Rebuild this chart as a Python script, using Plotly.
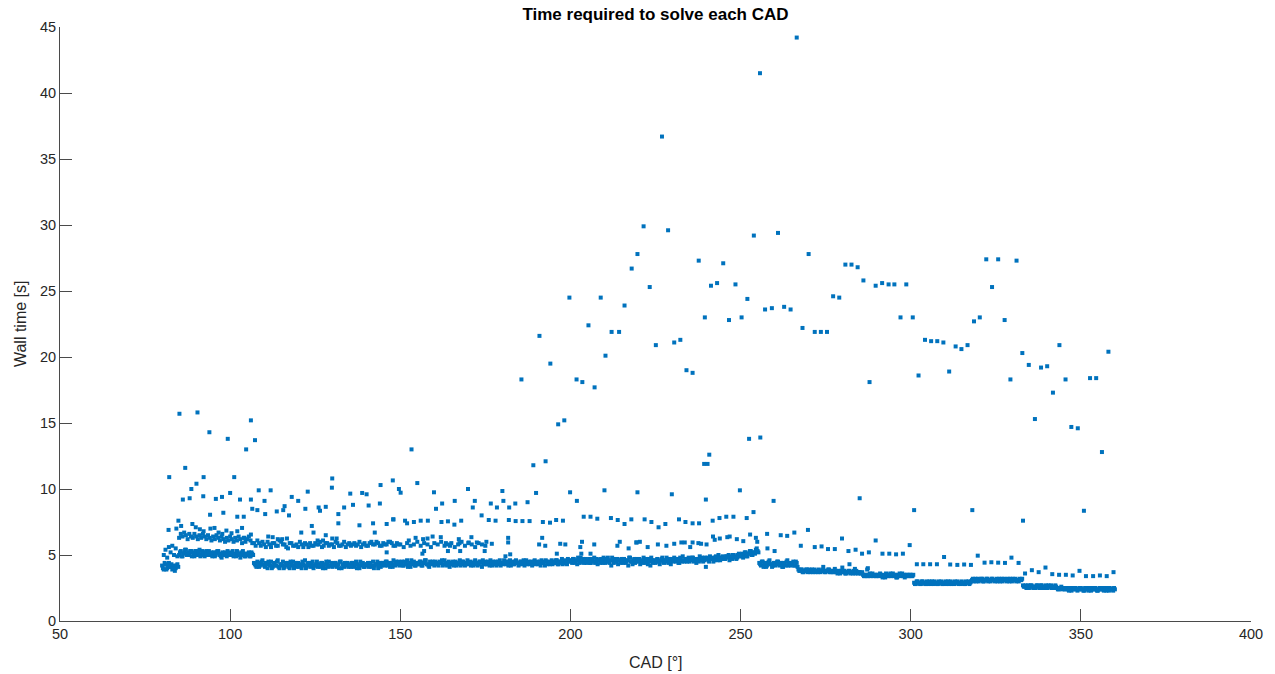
import numpy as np
import plotly.graph_objects as go

# ---- crank-angle grid of the dense solver band (deg) ----
band_start, band_step = 80.0, 0.5

# main band, samples on whole/half degrees: 80.0 ... 360.0
band_a = [
    4.2, 3.9, 4.3, 4.0, 4.4, 4.1, 3.9, 4.2, 4.0, 4.3,
    5.0, 5.3, 4.9, 5.2, 5.4, 5.1, 5.0, 5.3, 5.2, 4.9,
    5.3, 5.1, 5.4, 5.0, 5.2, 4.9, 5.3, 5.1, 5.0, 5.2,
    5.1, 4.9, 5.2, 5.3, 5.0, 4.8, 5.1, 5.2, 4.9, 5.0,
    5.2, 5.0, 4.9, 5.1, 5.3, 5.0, 4.8, 5.2, 5.1, 4.9,
    5.0, 5.2, 4.9, 5.1, 4.4, 4.2, 4.5, 4.1, 4.3, 4.6,
    4.2, 4.4, 4.0, 4.3, 4.5, 4.1, 4.3, 4.2, 4.6, 4.0,
    4.3, 4.5, 4.1, 4.2, 4.4, 4.0, 4.3, 4.5, 4.2, 4.1,
    4.4, 4.2, 4.0, 4.3, 4.6, 4.1, 4.2, 4.4, 4.3, 4.0,
    4.2, 4.5, 4.3, 4.1, 4.4, 4.2, 4.0, 4.3, 4.5, 4.2,
    4.1, 4.3, 4.4, 4.2, 4.0, 4.5, 4.3, 4.1, 4.2, 4.4,
    4.3, 4.1, 4.4, 4.2, 4.5, 4.3, 4.0, 4.2, 4.4, 4.1,
    4.2, 4.4, 4.3, 4.1, 4.5, 4.2, 4.3, 4.0, 4.4, 4.2,
    4.4, 4.2, 4.5, 4.3, 4.1, 4.4, 4.6, 4.2, 4.3, 4.5,
    4.3, 4.5, 4.2, 4.4, 4.6, 4.3, 4.1, 4.4, 4.5, 4.2,
    4.4, 4.3, 4.5, 4.2, 4.4, 4.6, 4.3, 4.1, 4.4, 4.5,
    4.2, 4.4, 4.3, 4.5, 4.4, 4.2, 4.6, 4.3, 4.4, 4.1,
    4.4, 4.5, 4.3, 4.2, 4.4, 4.6, 4.3, 4.5, 4.2, 4.4,
    4.3, 4.5, 4.4, 4.2, 4.6, 4.4, 4.3, 4.5, 4.1, 4.4,
    4.5, 4.3, 4.4, 4.6, 4.2, 4.4, 4.5, 4.3, 4.4, 4.2,
    4.4, 4.6, 4.3, 4.5, 4.4, 4.2, 4.5, 4.3, 4.6, 4.4,
    4.3, 4.5, 4.4, 4.2, 4.6, 4.4, 4.3, 4.5, 4.4, 4.6,
    4.4, 4.3, 4.5, 4.6, 4.4, 4.2, 4.5, 4.4, 4.3, 4.6,
    4.5, 4.4, 4.6, 4.3, 4.5, 4.7, 4.4, 4.5, 4.3, 4.6,
    4.6, 4.4, 4.7, 4.5, 4.3, 4.6, 4.8, 4.5, 4.4, 4.7,
    4.5, 4.7, 4.4, 4.6, 4.8, 4.5, 4.3, 4.6, 4.7, 4.4,
    4.6, 4.5, 4.8, 4.4, 4.2, 4.6, 4.7, 4.5, 4.3, 4.6,
    4.7, 4.4, 4.6, 4.5, 4.2, 4.8, 4.5, 4.6, 4.4, 4.7,
    4.5, 4.3, 4.6, 4.8, 4.4, 4.5, 4.7, 4.2, 4.6, 4.5,
    4.4, 4.7, 4.5, 4.6, 4.8, 4.4, 4.6, 4.5, 4.7, 4.3,
    4.6, 4.8, 4.5, 4.7, 4.4, 4.6, 4.9, 4.5, 4.7, 4.6,
    4.5, 4.7, 4.8, 4.6, 4.4, 4.7, 4.9, 4.6, 4.5, 4.8,
    4.7, 4.6, 4.9, 4.7, 4.5, 4.8, 4.7, 5.0, 4.6, 4.8,
    4.8, 4.7, 4.9, 5.0, 4.8, 4.7, 5.0, 4.9, 4.8, 5.1,
    4.9, 5.1, 5.0, 5.2, 4.9, 5.1, 5.3, 5.0, 5.2, 5.4,
    5.3, 4.4, 4.2, 4.5, 4.3, 4.1, 4.4, 4.6, 4.3, 4.2,
    4.4, 4.3, 4.5, 4.2, 4.4, 4.1, 4.3, 4.5, 4.2, 4.4,
    4.3, 4.5, 4.2, 4.4, 3.9, 3.8, 3.9, 3.7, 3.8, 3.9,
    3.8, 3.7, 3.9, 3.8, 3.7, 3.8, 3.9, 3.7, 3.8, 3.8,
    3.7, 3.8, 3.9, 3.7, 3.8, 3.7, 3.8, 3.6, 3.7, 3.8,
    3.7, 3.8, 3.6, 3.7, 3.8, 3.7, 3.6, 3.7, 3.8, 3.6,
    3.7, 3.6, 3.5, 3.4, 3.5, 3.4, 3.6, 3.5, 3.4, 3.5,
    3.4, 3.5, 3.6, 3.4, 3.5, 3.3, 3.5, 3.4, 3.6, 3.5,
    3.4, 3.5, 3.3, 3.5, 3.4, 3.6, 3.5, 3.4, 3.5, 3.4,
    3.5, 3.4, 2.9, 2.8, 3.0, 2.9, 2.8, 3.0, 2.9, 2.8,
    2.9, 3.0, 2.8, 2.9, 3.0, 2.9, 2.8, 2.9, 3.0, 2.8,
    2.9, 2.8, 3.0, 2.9, 2.8, 2.9, 3.0, 2.9, 2.8, 2.9,
    3.0, 2.9, 2.8, 2.9, 3.0, 2.9, 3.1, 3.0, 3.2, 3.1,
    3.0, 3.1, 3.2, 3.0, 3.1, 3.2, 3.1, 3.0, 3.2, 3.1,
    3.1, 3.0, 3.2, 3.1, 3.0, 3.2, 3.1, 3.2, 3.0, 3.1,
    3.2, 3.1, 3.0, 3.1, 3.2, 3.1, 2.7, 2.6, 2.5, 2.7,
    2.6, 2.7, 2.5, 2.6, 2.7, 2.6, 2.5, 2.7, 2.6, 2.5,
    2.6, 2.7, 2.6, 2.5, 2.6, 2.7, 2.5, 2.4, 2.5, 2.4,
    2.5, 2.4, 2.5, 2.3, 2.4, 2.5, 2.4, 2.5, 2.3, 2.4,
    2.5, 2.4, 2.3, 2.4, 2.5, 2.4, 2.3, 2.5, 2.4, 2.4,
    2.3, 2.5, 2.4, 2.4, 2.5, 2.3, 2.4, 2.5, 2.4, 2.3,
    2.4,
]

# main band, samples on quarter degrees: 80.25 ... 359.75
band_b = [
    4.0, 4.4, 3.9, 4.2, 4.1, 4.3, 4.0, 3.8, 4.2, 4.1,
    5.2, 4.9, 5.1, 5.4, 5.0, 5.2, 5.3, 4.9, 5.1, 5.3,
    5.0, 5.2, 4.9, 5.3, 5.1, 5.2, 5.0, 5.3, 5.1, 4.9,
    5.2, 5.0, 5.3, 5.1, 4.9, 5.2, 5.0, 5.1, 5.3, 5.0,
    5.1, 5.3, 5.0, 4.9, 5.2, 5.1, 5.0, 5.3, 4.9, 5.1,
    5.1, 4.9, 5.2, 5.0, 4.3, 4.1, 4.4, 4.2, 4.5, 4.3,
    4.1, 4.3, 4.5, 4.2, 4.0, 4.4, 4.2, 4.5, 4.1, 4.3,
    4.2, 4.0, 4.4, 4.3, 4.1, 4.5, 4.2, 4.0, 4.4, 4.3,
    4.1, 4.3, 4.5, 4.2, 4.0, 4.4, 4.3, 4.1, 4.5, 4.2,
    4.3, 4.1, 4.2, 4.4, 4.0, 4.3, 4.5, 4.1, 4.2, 4.4,
    4.2, 4.4, 4.1, 4.3, 4.5, 4.0, 4.2, 4.4, 4.3, 4.1,
    4.2, 4.4, 4.1, 4.3, 4.0, 4.2, 4.5, 4.3, 4.1, 4.3,
    4.3, 4.1, 4.4, 4.2, 4.0, 4.3, 4.5, 4.2, 4.1, 4.4,
    4.3, 4.5, 4.2, 4.4, 4.3, 4.1, 4.3, 4.5, 4.4, 4.2,
    4.4, 4.2, 4.5, 4.3, 4.1, 4.4, 4.6, 4.3, 4.2, 4.4,
    4.3, 4.5, 4.2, 4.4, 4.6, 4.3, 4.2, 4.5, 4.3, 4.4,
    4.5, 4.3, 4.2, 4.4, 4.6, 4.3, 4.4, 4.2, 4.5, 4.3,
    4.3, 4.2, 4.5, 4.4, 4.3, 4.2, 4.5, 4.4, 4.3, 4.6,
    4.4, 4.2, 4.3, 4.5, 4.3, 4.2, 4.5, 4.4, 4.6, 4.3,
    4.3, 4.5, 4.2, 4.4, 4.5, 4.3, 4.2, 4.5, 4.6, 4.4,
    4.3, 4.4, 4.5, 4.2, 4.6, 4.4, 4.3, 4.5, 4.4, 4.2,
    4.5, 4.3, 4.6, 4.4, 4.3, 4.5, 4.4, 4.2, 4.5, 4.3,
    4.5, 4.4, 4.2, 4.4, 4.5, 4.6, 4.3, 4.5, 4.4, 4.3,
    4.4, 4.6, 4.3, 4.5, 4.4, 4.3, 4.6, 4.4, 4.7, 4.5,
    4.5, 4.7, 4.4, 4.6, 4.8, 4.4, 4.5, 4.7, 4.6, 4.4,
    4.6, 4.4, 4.7, 4.5, 4.4, 4.7, 4.6, 4.4, 4.5, 4.8,
    4.4, 4.7, 4.5, 4.6, 4.8, 4.4, 4.5, 4.7, 4.6, 4.4,
    4.5, 4.7, 4.4, 4.6, 4.8, 4.5, 4.3, 4.7, 4.5, 4.6,
    4.7, 4.5, 4.4, 4.6, 4.7, 4.3, 4.5, 4.8, 4.4, 4.6,
    4.6, 4.5, 4.3, 4.7, 4.5, 4.6, 4.8, 4.4, 4.5, 4.7,
    4.5, 4.6, 4.7, 4.4, 4.8, 4.5, 4.6, 4.7, 4.5, 4.8,
    4.6, 4.8, 4.5, 4.7, 4.6, 4.5, 4.7, 4.8, 4.6, 4.7,
    4.8, 4.5, 4.7, 4.8, 4.6, 4.9, 4.6, 4.8, 4.7, 4.9,
    4.7, 4.9, 4.8, 4.6, 4.9, 5.0, 4.8, 4.7, 5.0, 4.9,
    5.0, 4.8, 5.2, 4.9, 5.1, 5.3, 5.0, 5.2, 5.1, 5.5,
    5.2, 4.3, 4.5, 4.1, 4.4, 4.2, 4.5, 4.3, 4.1, 4.4,
    4.2, 4.5, 4.3, 4.4, 4.1, 4.4, 4.2, 4.6, 4.3, 4.2,
    4.4, 4.2, 4.5, 4.1, 3.8, 3.9, 3.7, 3.8, 3.9, 3.7,
    3.9, 3.8, 3.7, 3.9, 3.8, 3.7, 3.8, 3.8, 3.9, 3.7,
    3.8, 3.9, 3.7, 3.8, 3.7, 3.8, 3.7, 3.8, 3.6, 3.7,
    3.8, 3.6, 3.7, 3.8, 3.6, 3.7, 3.8, 3.6, 3.7, 3.7,
    3.6, 3.7, 3.4, 3.5, 3.4, 3.5, 3.4, 3.6, 3.5, 3.4,
    3.5, 3.4, 3.5, 3.3, 3.4, 3.6, 3.4, 3.5, 3.4, 3.6,
    3.5, 3.3, 3.4, 3.6, 3.5, 3.4, 3.3, 3.5, 3.4, 3.5,
    3.4, 3.5, 2.8, 3.0, 2.9, 2.8, 3.0, 2.9, 2.8, 3.0,
    2.8, 2.9, 3.0, 2.8, 2.9, 2.8, 3.0, 2.9, 2.8, 2.9,
    3.0, 2.9, 2.8, 3.0, 2.9, 2.8, 2.9, 3.0, 2.9, 2.8,
    2.9, 2.8, 3.0, 2.9, 2.8, 3.0, 3.2, 3.1, 3.0, 3.2,
    3.1, 3.2, 3.0, 3.1, 3.2, 3.0, 3.1, 3.2, 3.1, 3.0,
    3.2, 3.1, 3.0, 3.2, 3.1, 3.1, 3.0, 3.1, 3.2, 3.0,
    3.1, 3.2, 3.1, 3.0, 3.1, 3.2, 2.6, 2.7, 2.6, 2.5,
    2.7, 2.6, 2.6, 2.5, 2.7, 2.6, 2.7, 2.5, 2.6, 2.7,
    2.5, 2.6, 2.7, 2.6, 2.5, 2.6, 2.4, 2.5, 2.6, 2.5,
    2.4, 2.5, 2.4, 2.5, 2.3, 2.4, 2.5, 2.4, 2.4, 2.5,
    2.4, 2.3, 2.5, 2.4, 2.3, 2.5, 2.4, 2.4, 2.5, 2.3,
    2.4, 2.4, 2.5, 2.3, 2.4, 2.5, 2.3, 2.4, 2.4, 2.5,
]

# secondary band, 85.0 ... 106.5 every 0.5 deg
upper_early_start = 85.0
upper_early = [
    6.3, 6.6, 6.4, 6.7, 6.5, 6.2, 6.6, 6.4, 6.3, 6.6,
    6.4, 6.2, 6.5, 6.3, 6.6, 6.4, 6.2, 6.5, 6.3, 6.1,
    6.4, 6.2, 6.5, 6.3, 6.1, 6.4, 6.2, 6.0, 6.3, 6.1,
    6.4, 6.2, 6.0, 6.3, 6.1, 6.4, 6.2, 5.9, 6.3, 6.0,
    6.2, 6.4, 6.1, 5.9,
]

# secondary band, 107 ... 175 every 1 deg
upper_mid_start = 107.0
upper_mid = [
    5.9, 6.1, 5.7, 5.8, 6.0, 5.6, 5.9, 5.7, 6.0, 5.8,
    5.5, 5.9, 5.7, 5.6, 5.8, 5.9, 5.6, 5.7, 5.9, 5.8,
    5.6, 5.9, 5.7, 5.8, 6.0, 5.7, 5.8, 5.6, 5.9, 5.8,
    5.7, 6.0, 5.8, 5.7, 5.9, 5.8, 6.0, 5.7, 5.9, 5.8,
    6.0, 5.7, 5.9, 5.8, 5.6, 5.9, 5.7, 5.8, 6.0, 5.7,
    5.9, 5.8, 5.6, 5.9, 5.8, 6.0, 5.7, 5.8, 5.9, 5.6,
    5.8, 6.0, 5.7, 5.9, 5.8, 5.6, 5.9, 5.8, 5.7,
]

# secondary band, 107.5 ... 149.5 every 1 deg
upper_mid_b_start = 107.5
upper_mid_b = [
    5.7, 5.9, 6.0, 5.6, 5.8, 5.9, 5.7, 6.1, 5.8, 5.6,
    5.9, 5.7, 5.8, 6.0, 5.6, 5.8, 5.9, 5.7, 5.8, 6.0,
    5.7, 5.9, 5.8, 5.6, 5.9, 5.7, 6.0, 5.8, 5.7, 5.9,
    5.8, 5.6, 5.9, 5.7, 6.0, 5.8, 5.9, 5.7, 5.8, 6.0,
    5.9, 5.7, 5.8,
]

# isolated solves (CAD, wall time)
scattered = [
    # early cycle, 80-85 deg
    (80.5, 5.0), (81.0, 5.4), (81.5, 4.8), (82.0, 5.6), (82.5, 5.2),
    (83.0, 5.7), (83.5, 5.0), (84.0, 5.5), (84.5, 4.9),
    (81.9, 6.9), (84.2, 7.0), (84.8, 7.6), (85.6, 7.2), (88.9, 7.35),
    (89.9, 7.1), (91.1, 6.95), (92.2, 6.8), (94.2, 7.0), (95.4, 7.05),
    (96.6, 6.7), (97.7, 6.6), (98.9, 6.85), (100.4, 6.65), (102.1, 6.8),
    (103.5, 7.05), (104.2, 6.3), (106.1, 6.55),
    (111.2, 6.4), (112.5, 6.35), (114.0, 6.2), (115.3, 6.2), (116.7, 6.25),
    (120.9, 6.7), (124.0, 7.2), (124.5, 6.7), (125.7, 6.1), (127.3, 6.1),
    (128.1, 6.5), (130.0, 6.25), (131.3, 6.25), (131.8, 7.4), (138.0, 7.25),
    (142.0, 7.4), (142.5, 6.7), (146.0, 7.35), (148.0, 7.7), (146.0, 5.2),
    # upper cloud 80-150 deg
    (85.1, 15.7), (90.4, 15.8), (93.9, 14.3), (99.3, 13.8), (106.1, 15.2),
    (104.7, 13.0), (107.3, 13.7), (82.1, 10.9), (86.8, 11.6), (101.2, 10.9),
    (88.6, 10.0), (90.1, 10.4), (92.2, 10.9), (86.1, 9.2), (88.1, 9.3),
    (92.1, 9.45), (95.8, 9.25), (97.6, 9.4), (100.0, 9.7), (94.1, 8.05),
    (98.0, 8.2), (102.1, 7.9), (104.0, 7.9), (102.9, 9.2), (106.1, 9.2),
    (106.5, 8.5), (108.4, 9.9), (108.0, 8.4), (110.1, 9.1), (110.3, 8.1),
    (111.9, 9.9), (113.7, 8.3), (115.6, 8.4), (116.0, 8.7), (117.3, 8.0),
    (118.1, 9.4), (120.0, 9.1), (122.1, 8.5), (122.8, 9.8), (126.0, 8.6),
    (126.4, 8.35), (128.1, 8.65), (130.0, 10.8), (129.9, 10.1), (131.8, 8.1),
    (133.5, 8.6), (135.3, 9.65), (136.1, 8.8), (138.8, 9.7), (140.1, 9.6),
    (140.7, 8.75), (144.2, 10.3), (144.0, 8.9), (147.8, 10.65), (149.6, 10.0),
    (150.1, 9.72), (153.3, 13.0), (155.0, 10.45),
    # 150-220 deg
    (159.9, 9.75), (160.5, 8.5), (162.3, 8.9), (166.0, 9.1), (169.9, 10.0),
    (171.3, 8.6), (171.9, 9.1), (173.9, 8.0), (176.6, 8.9), (178.4, 8.6),
    (180.0, 9.85), (180.3, 9.1), (182.0, 8.6), (183.8, 8.9), (187.4, 9.0),
    (189.9, 9.7), (199.9, 9.75), (201.9, 9.1), (210.0, 9.9), (219.7, 9.75),
    (147.9, 7.7), (151.4, 7.6), (152.0, 7.4), (154.0, 7.5), (156.0, 7.6),
    (158.1, 7.6), (162.1, 7.5), (164.0, 7.55), (165.9, 7.3), (167.9, 7.6),
    (176.0, 7.65), (178.0, 7.6), (181.9, 7.65), (183.9, 7.57), (185.9, 7.57),
    (188.0, 7.57), (191.9, 7.5), (194.0, 7.45), (195.8, 7.65), (197.8, 7.6),
    (203.9, 7.9), (205.9, 7.9), (207.9, 7.75), (211.9, 7.8), (213.9, 7.65),
    (215.9, 7.35), (217.9, 7.7),
    (152.5, 6.1), (154.5, 6.3), (156.7, 6.2), (158.0, 6.25), (159.5, 6.4),
    (161.9, 6.35), (163.4, 5.9), (164.6, 5.7), (167.2, 6.2), (167.4, 5.9),
    (170.1, 5.95), (170.9, 6.35), (172.5, 5.95), (175.3, 6.0), (176.9, 5.85),
    (181.7, 6.3), (181.7, 5.95), (190.8, 5.8), (191.7, 6.3), (192.6, 5.7),
    (197.0, 5.85), (198.5, 5.8), (202.9, 5.6), (203.4, 6.0), (207.0, 5.8),
    (213.8, 5.7), (214.5, 6.0), (217.1, 5.5), (219.4, 5.95),
    (156.5, 5.1), (157.0, 5.3), (164.0, 5.3), (167.6, 5.3), (174.8, 5.3),
    (180.9, 4.9), (182.3, 5.05), (196.0, 5.1), (203.2, 5.1), (205.9, 5.1),
    # peak region 185-270 deg
    (185.6, 18.3), (190.9, 21.6), (194.1, 19.5), (196.4, 14.9), (198.2, 15.2),
    (199.7, 24.5), (201.8, 18.3), (203.5, 18.1), (205.3, 22.4), (207.1, 17.7),
    (208.9, 24.5), (210.3, 20.1), (212.1, 21.9), (214.3, 21.9), (215.9, 23.9),
    (189.1, 11.8), (192.7, 12.1),
    (266.5, 44.2), (255.7, 41.5), (226.9, 36.7), (221.5, 29.9), (228.7, 29.6),
    (253.9, 29.2), (261.0, 29.4), (219.7, 27.8), (218.0, 26.7), (223.3, 25.3),
    (237.7, 27.3), (244.9, 27.1), (241.3, 25.4), (243.1, 25.6), (248.5, 25.5),
    (252.0, 24.4), (239.5, 23.0), (246.6, 22.8), (250.3, 23.0), (225.1, 20.9),
    (230.5, 21.1), (232.3, 21.3), (234.1, 19.0), (235.9, 18.8), (257.2, 23.6),
    (259.2, 23.7), (262.8, 23.8), (264.7, 23.6), (270.0, 27.8), (268.2, 22.2),
    (252.5, 13.8), (255.8, 13.9), (240.8, 12.6), (239.3, 11.9), (240.3, 11.9),
    (229.8, 9.6), (239.8, 9.2), (249.8, 9.9), (259.7, 9.1), (285.0, 9.3),
    (221.8, 7.7), (223.8, 7.5), (225.9, 7.1), (227.9, 7.35), (231.9, 7.7),
    (233.8, 7.5), (235.9, 7.4), (237.8, 7.4), (241.8, 7.6), (243.8, 7.8),
    (245.8, 7.9), (247.9, 7.9), (251.8, 7.8), (253.8, 8.25),
    (219.4, 5.95), (220.4, 6.0), (222.7, 5.6), (225.7, 5.8), (228.2, 5.7),
    (230.5, 5.85), (232.6, 5.95), (233.6, 5.95), (235.2, 5.6), (235.9, 5.95),
    (237.6, 5.9), (238.4, 5.85), (240.0, 5.8), (241.9, 6.4), (242.4, 6.15),
    (243.9, 6.25), (246.1, 6.35), (246.8, 6.4), (248.9, 6.2), (250.8, 6.05),
    (252.8, 6.55), (254.5, 6.3), (254.9, 6.0), (260.0, 5.3), (257.9, 5.5),
    (239.8, 4.1),
    # 255-300 deg
    (257.8, 6.6), (261.8, 6.5), (263.7, 6.45), (265.8, 6.7), (269.8, 6.9),
    (267.7, 5.7), (271.8, 5.6), (273.8, 5.65), (275.7, 5.45), (277.7, 5.45),
    (279.8, 6.25), (281.7, 5.3), (283.8, 5.4), (285.7, 5.1), (287.7, 5.2),
    (282.0, 4.3), (287.4, 4.0), (289.7, 6.1), (291.7, 5.1), (293.7, 5.1),
    (295.7, 5.05), (297.7, 5.1), (299.7, 5.75),
    (274.3, 4.1), (277.7, 3.95), (279.9, 4.05), (283.6, 3.95), (287.2, 3.9),
    (271.8, 21.9), (273.6, 21.9), (275.4, 21.9), (277.2, 24.6), (279.0, 24.5),
    (280.8, 27.0), (282.6, 27.0), (284.4, 26.8), (286.1, 25.8), (289.7, 25.4),
    (291.6, 25.6), (293.5, 25.5), (295.2, 25.5), (298.7, 25.5), (297.0, 23.0),
    (300.6, 23.0), (287.9, 18.1),
    # 300-360 deg
    (304.2, 21.3), (302.3, 18.6), (322.2, 27.4), (325.7, 27.4), (331.1, 27.3),
    (323.9, 25.3), (318.6, 22.7), (320.3, 23.0), (327.6, 22.8), (306.0, 21.2),
    (307.8, 21.2), (309.6, 21.1), (313.2, 20.8), (314.9, 20.6), (316.7, 20.9),
    (311.3, 18.9), (329.3, 18.3), (332.8, 20.3), (334.7, 19.4), (338.3, 19.2),
    (340.1, 19.3), (343.7, 20.9), (345.5, 18.3), (341.8, 17.3), (352.7, 18.4),
    (354.5, 18.4), (358.1, 20.4), (336.5, 15.3), (347.2, 14.7), (349.1, 14.6),
    (356.2, 12.8),
    (301.0, 8.4), (318.1, 8.4), (350.9, 8.35), (333.0, 7.6),
    (301.8, 4.3), (303.7, 4.3), (305.7, 4.3), (307.7, 4.3), (309.8, 4.85),
    (311.6, 4.28), (313.7, 4.25), (315.7, 4.28), (317.7, 4.25), (319.7, 4.95),
    (321.7, 4.42), (323.7, 4.45), (325.7, 4.42), (327.7, 4.4), (329.6, 4.8),
    (331.7, 4.4), (333.6, 3.6), (335.6, 3.85), (337.6, 3.7), (339.6, 4.05),
    (341.6, 3.55), (343.6, 3.5), (345.6, 3.5), (347.6, 3.45), (349.6, 3.8),
    (351.5, 3.4), (353.6, 3.4), (355.6, 3.45), (357.6, 3.4), (359.6, 3.7),
]

x_ticks = [50, 100, 150, 200, 250, 300, 350, 400]
y_ticks = [0, 5, 10, 15, 20, 25, 30, 35, 40, 45]

# ---- assemble the samples ----
cad = []
wall = []

def add_grid(start, step, values):
    for i, v in enumerate(values):
        cad.append(start + i * step)
        wall.append(v)

add_grid(band_start, band_step, band_a)
add_grid(band_start + band_step / 2, band_step, band_b)
add_grid(upper_early_start, 0.5, upper_early)
add_grid(upper_mid_start, 1.0, upper_mid)
add_grid(upper_mid_b_start, 1.0, upper_mid_b)
for c, w in scattered:
    cad.append(c)
    wall.append(w)

ink = "#262626"
font = "Liberation Sans, Arial, Helvetica, sans-serif"

fig = go.Figure(
    go.Scatter(
        x=cad, y=wall, mode="markers",
        marker=dict(symbol="square", size=4, color="#0072BD", line=dict(width=0)),
        hoverinfo="x+y",
    )
)

axis_common = dict(
    showgrid=False, zeroline=False, showline=True, linecolor="#4a4a4a", linewidth=1,
    ticks="inside", ticklen=12, tickwidth=1, tickcolor="#4a4a4a",
    tickfont=dict(family=font, size=14.5, color=ink), mirror=False,
)

fig.update_layout(
    width=1275, height=674,
    margin=dict(l=60, r=22, t=27, b=53),
    paper_bgcolor="white", plot_bgcolor="white",
    showlegend=False,
    title=dict(
        text="<b>Time required to solve each CAD</b>",
        font=dict(family=font, size=17, color="black"),
        x=0.5, xanchor="center", xref="paper",
        y=1 - 14 / 674, yref="container", yanchor="middle",
    ),
    xaxis=dict(range=[50, 400], tickvals=x_ticks, **axis_common),
    yaxis=dict(range=[0, 45], tickvals=y_ticks, **axis_common),
    annotations=[
        dict(text="CAD [°]", x=0.5, xref="paper", y=-41 / 594, yref="paper",
             xanchor="center", yanchor="middle", showarrow=False,
             font=dict(family=font, size=16, color=ink)),
        dict(text="Wall time [s]", x=-40 / 1193, xref="paper", y=0.5, yref="paper",
             xanchor="center", yanchor="middle", showarrow=False, textangle=-90,
             font=dict(family=font, size=16, color=ink)),
    ],
)

fig.write_html("out.html")
